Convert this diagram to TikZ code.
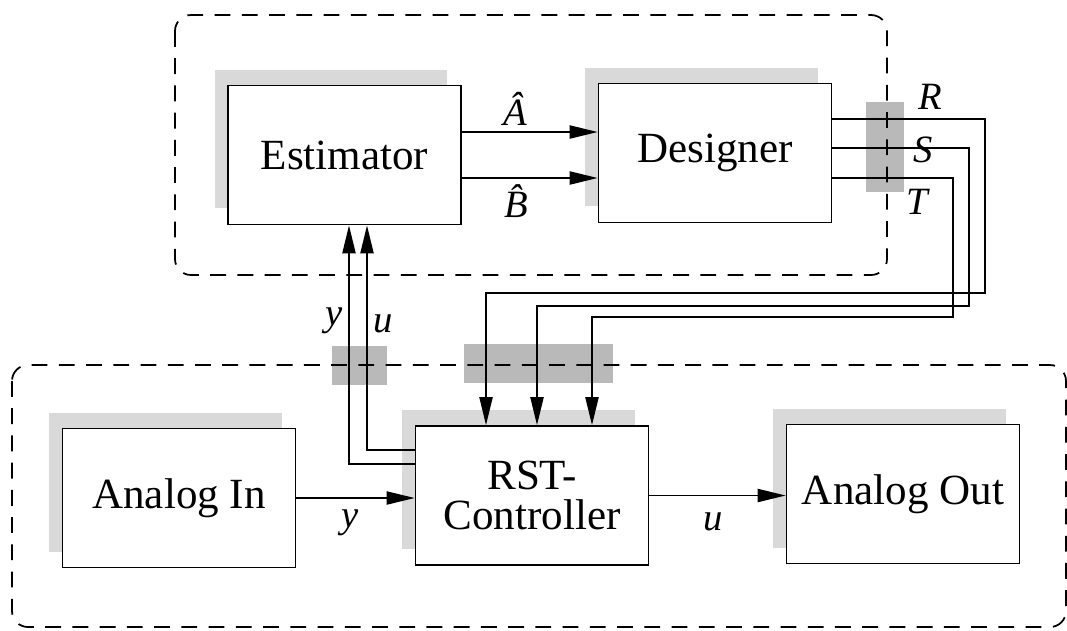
\documentclass[tikz,border=0pt]{standalone}
\usepackage{fontspec}
\setmainfont{Liberation Serif}
\usetikzlibrary{arrows.meta,shadows}
\tikzset{
  block/.style={rectangle, draw, line width=1pt, fill=white, align=center,
    minimum width=4.66cm, minimum height=2.78cm, font=\fontsize{24.5}{23}\selectfont,
    general shadow={fill=gray!30, shadow xshift=-0.27cm, shadow yshift=0.32cm}},
  line/.style={draw, line width=1pt, -{Triangle[length=16pt,width=7.5pt]}},
  group/.style={draw, line width=1pt, dash pattern=on 9pt off 6.5pt, rounded corners=0.32cm},
  cross/.style={fill=gray!55},
  lbl/.style={font=\fontsize{22}{22}\selectfont\itshape}
}
\begin{document}
\begin{tikzpicture}[x=0.02cm, y=-0.02cm]
  \useasboundingbox (0,0) rectangle (1067,630);
  % shaded crossings
  \fill[cross] (866,102) rectangle (904,192);
  \fill[cross] (332,346) rectangle (387,385);
  \fill[cross] (464,344) rectangle (613,383);
  % groups
  \draw[group] (175,15) rectangle (887,275);
  \draw[group] (12,365) rectangle (1066,627);
  % nodes
  \node[block] (est) at (344.5,155) {Estimator};
  \node[block] (des) at (715,153) {Designer};
  \node[block] (rst) at (532,495.5) {RST-\\Controller};
  \node[block] (ain) at (179,498) {Analog In};
  \node[block] (aout) at (903,494) {Analog Out};
  \node[lbl] (rlbl) at (930,97) {R};
  \node[lbl] (slbl) at (923,150) {S};
  \node[lbl] (tlbl) at (917,202) {T};
  \coordinate (rbend) at (985,293);
  \coordinate (sbend) at (969,306);
  \coordinate (tbend) at (953,317);
  % edges
  \path[line] ([yshift=0.46cm]est.east) -- node[lbl, pos=0.39, above] {\^{A}} ([yshift=0.46cm]est.east -| des.west);
  \path[line] ([yshift=-0.46cm]est.east) -- node[lbl, pos=0.4, below] {\^{B}} ([yshift=-0.46cm]est.east -| des.west);
  \path[line] ([yshift=0.63cm]rst.west) -| node[lbl, pos=0.8, left] {y} ([xshift=0.09cm]est.south);
  \path[line] ([yshift=0.91cm]rst.west) -| node[lbl, pos=0.78, right] {u} ([xshift=0.45cm]est.south);
  \path[line] ([yshift=0.68cm]des.east) -| (rbend) -| ([xshift=-0.92cm]rst.north);
  \path[line] ([yshift=0.1cm]des.east) -| (sbend) -| ([xshift=0.1cm]rst.north);
  \path[line] ([yshift=-0.5cm]des.east) -| (tbend) -| ([xshift=1.2cm]rst.north);
  \path[line] (ain.east) -- node[lbl, pos=0.45, below=3pt] {y} (ain.east -| rst.west);
  \path[line] (rst.east) -- node[lbl, pos=0.47, below=6pt] {u} (rst.east -| aout.west);
\end{tikzpicture}
\end{document}
